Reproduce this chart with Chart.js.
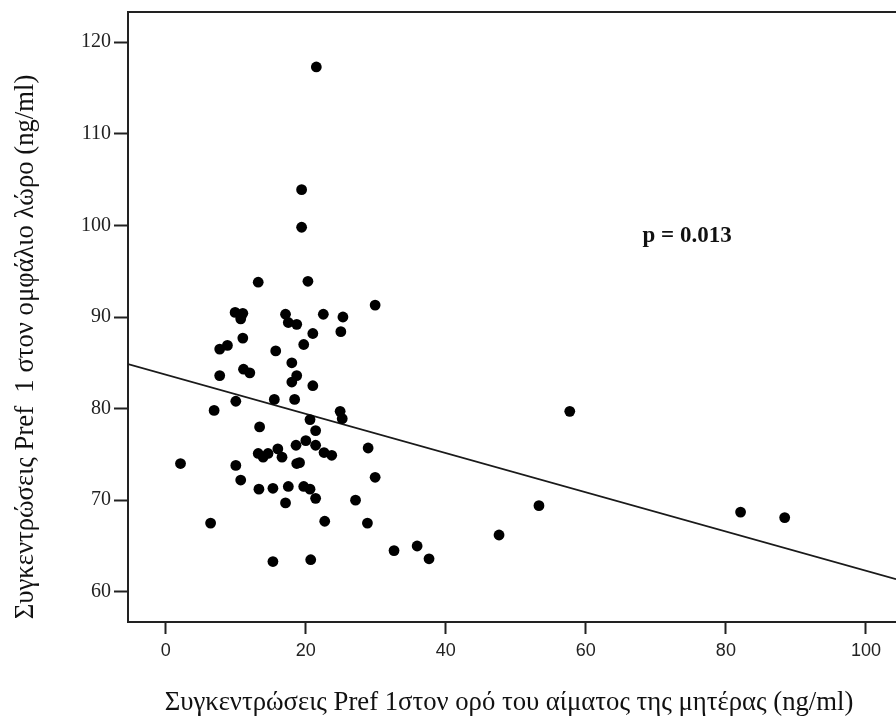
<!DOCTYPE html>
<html>
<head>
<meta charset="utf-8">
<script src="https://cdn.jsdelivr.net/npm/chart.js@4.4.1/dist/chart.umd.min.js"></script>
<style>
  html, body { margin: 0; padding: 0; background: #fff; }
</style>
</head>
<body>
<canvas id="scatterCanvas" width="896" height="720"></canvas>
<script>
// Pref 1 στον ορό της μητέρας (x) και στον ομφάλιο λώρο (y), ng/ml
const prefMother = [
  21.5, 19.4, 19.4, 13.2, 20.3, 9.9, 11.0, 10.7, 17.1, 17.5,
  18.7, 22.5, 25.3, 25.0, 21.0, 19.7, 11.0, 7.7, 8.8, 15.7,
  18.0, 29.9, 7.7, 11.1, 12.0, 18.7, 18.0, 21.0, 10.0, 15.5,
  18.4, 6.9, 24.9, 25.2, 20.6, 57.7, 13.4, 21.4, 18.6, 20.0,
  21.4, 22.6, 23.7, 13.2, 13.9, 14.6, 16.0, 16.6, 18.7, 19.1,
  2.1, 10.0, 10.7, 13.3, 15.3, 17.5, 19.7, 20.6, 21.4, 17.1,
  27.1, 28.9, 29.9, 6.4, 22.7, 28.8, 15.3, 20.7, 32.6, 35.9,
  37.6, 47.6, 53.3, 82.1, 88.4
];
const prefCord = [
  117.3, 103.9, 99.8, 93.8, 93.9, 90.5, 90.4, 89.8, 90.3, 89.4,
  89.2, 90.3, 90.0, 88.4, 88.2, 87.0, 87.7, 86.5, 86.9, 86.3,
  85.0, 91.3, 83.6, 84.3, 83.9, 83.6, 82.9, 82.5, 80.8, 81.0,
  81.0, 79.8, 79.7, 78.9, 78.8, 79.7, 78.0, 77.6, 76.0, 76.5,
  76.0, 75.2, 74.9, 75.1, 74.7, 75.1, 75.6, 74.7, 74.0, 74.1,
  74.0, 73.8, 72.2, 71.2, 71.3, 71.5, 71.5, 71.2, 70.2, 69.7,
  70.0, 75.7, 72.5, 67.5, 67.7, 67.5, 63.3, 63.5, 64.5, 65.0,
  63.6, 66.2, 69.4, 68.7, 68.1
];

const xTicks = [0, 20, 40, 60, 80, 100];
const yTicks = [60, 70, 80, 90, 100, 110, 120];
const xRange = [-5.4, 104.3];
const yRange = [56.7, 123.3];

// γραμμή παλινδρόμησης
const regIntercept = 83.7;
const regSlope = -0.214;
const pLabel = 'p = 0.013';
const pLabelAt = [68.1, 98.2];

const xTitle = 'Συγκεντρώσεις Pref 1στον ορό του αίματος της μητέρας (ng/ml)';
const yTitle = 'Συγκεντρώσεις Pref  1 στον ομφάλιο λώρο (ng/ml)';

const points = prefMother.map((x, i) => ({ x: x, y: prefCord[i] }));
const regLine = xRange.map(x => ({ x: x, y: regIntercept + regSlope * x }));

// χωρίς επιπλέον περιθώρια από τις ετικέτες
function noPadding(s) {
  s.paddingTop = 0;
  s.paddingBottom = 0;
  s.paddingLeft = 0;
  s.paddingRight = 0;
}

// πλαίσιο πάνω, ετικέτα p και τίτλοι αξόνων
const extras = {
  id: 'extras',
  afterDraw(chart) {
    const { ctx, chartArea, scales } = chart;
    ctx.save();
    ctx.strokeStyle = '#222';
    ctx.lineWidth = 2;
    ctx.beginPath();
    ctx.moveTo(chartArea.left - 1, chartArea.top);
    ctx.lineTo(chartArea.right, chartArea.top);
    ctx.stroke();

    ctx.fillStyle = '#111';
    ctx.font = 'bold 23px "Liberation Serif"';
    ctx.textAlign = 'left';
    ctx.textBaseline = 'alphabetic';
    ctx.fillText(pLabel, scales.x.getPixelForValue(pLabelAt[0]), scales.y.getPixelForValue(pLabelAt[1]));

    ctx.font = '26.7px "Liberation Serif"';
    ctx.textAlign = 'center';
    ctx.fillText(xTitle, 509, 710);

    ctx.translate(33, 347);
    ctx.rotate(-Math.PI / 2);
    ctx.fillText(yTitle, 0, 0);
    ctx.restore();
  }
};

const ctx = document.getElementById('scatterCanvas').getContext('2d');
new Chart(ctx, {
  type: 'scatter',
  data: {
    datasets: [
      {
        data: points,
        backgroundColor: '#000',
        borderColor: '#000',
        borderWidth: 0,
        pointRadius: 5.4,
        order: 0
      },
      {
        data: regLine,
        showLine: true,
        borderColor: '#1a1a1a',
        borderWidth: 1.8,
        pointRadius: 0,
        order: 1
      }
    ]
  },
  options: {
    responsive: false,
    animation: false,
    layout: { autoPadding: false, padding: { top: 12, left: 0, right: 0, bottom: 0 } },
    plugins: { legend: { display: false }, tooltip: { enabled: false } },
    scales: {
      x: {
        type: 'linear',
        position: 'bottom',
        min: xRange[0],
        max: xRange[1],
        afterBuildTicks: s => { s.ticks = xTicks.map(v => ({ value: v })); },
        afterFit: s => { s.height = 98; noPadding(s); },
        grid: { display: true, drawOnChartArea: false, drawTicks: true, tickLength: 12, tickWidth: 2, tickColor: '#222' },
        border: { display: true, color: '#222', width: 2 },
        ticks: { font: { family: 'Liberation Sans', size: 18 }, color: '#222', padding: 6, maxRotation: 0 }
      },
      y: {
        type: 'linear',
        position: 'left',
        min: yRange[0],
        max: yRange[1],
        afterBuildTicks: s => { s.ticks = yTicks.map(v => ({ value: v })); },
        afterFit: s => { s.width = 128; noPadding(s); },
        grid: { display: true, drawOnChartArea: false, drawTicks: true, tickLength: 14, tickWidth: 2, tickColor: '#222' },
        border: { display: true, color: '#222', width: 2 },
        ticks: { font: { family: 'Liberation Serif', size: 20 }, color: '#222', padding: 3 }
      }
    }
  },
  plugins: [extras]
});
</script>
</body>
</html>
